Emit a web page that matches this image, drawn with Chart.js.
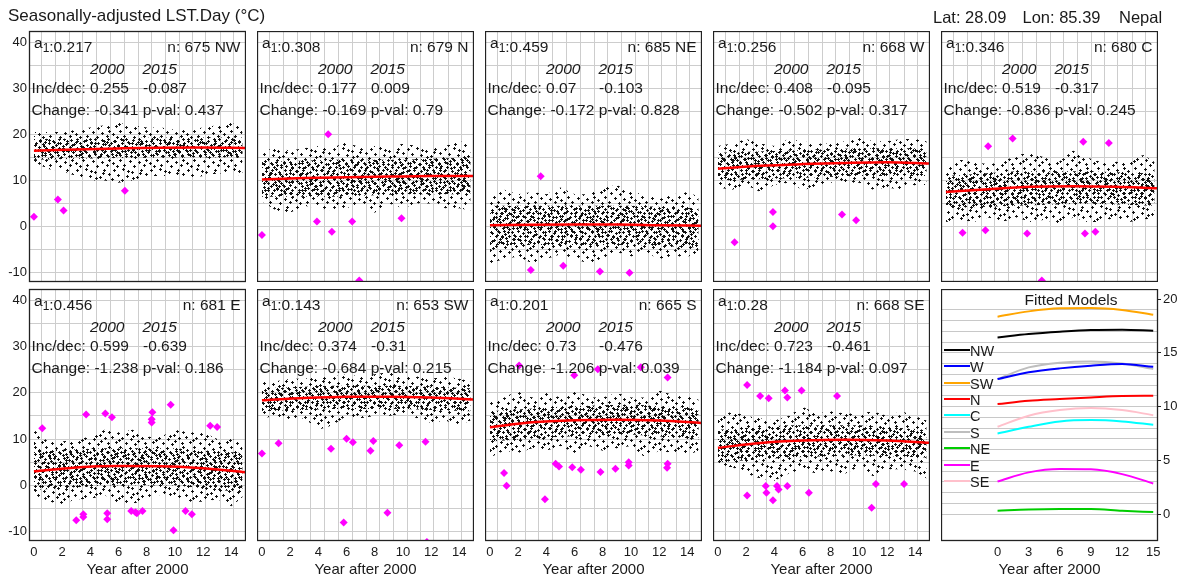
<!DOCTYPE html>
<html>
<head>
<meta charset="utf-8">
<script src="https://cdn.jsdelivr.net/npm/chart.js@4.4.1/dist/chart.umd.min.js"></script>
<style>
  body { margin: 0; background: #fff; font-family: "Liberation Sans", Arial, sans-serif; color: #1a1a1a; }
  #page { position: relative; width: 1187px; height: 583px; overflow: hidden; background: #fff; }
  canvas { position: absolute; }
  .txt { position: absolute; white-space: pre; font-size: 15.5px; line-height: 18px; }
  .title { font-size: 17px; line-height: 20px; }
  .head { font-size: 16.5px; line-height: 20px; }
  .leg { font-size: 14.5px; }
  .it { font-style: italic; }
</style>
</head>
<body>
<div id="page"></div>
<script>
// Site and panel summaries
const siteLat = 28.09, siteLon = 85.39, siteName = 'Nepal';
const regions = ['NW', 'N', 'NE', 'W', 'C', 'E', 'SW', 'S', 'SE'];
const a1 = [0.217, 0.308, 0.459, 0.256, 0.346, 0.456, 0.143, 0.201, 0.28];
const nObs = [675, 679, 685, 668, 680, 681, 653, 665, 668];
const inc2000 = [0.255, 0.177, 0.07, 0.408, 0.519, 0.599, 0.374, 0.73, 0.723];
const inc2015 = [-0.087, 0.009, -0.103, -0.095, -0.317, -0.639, -0.31, -0.476, -0.461];
const change = [-0.341, -0.169, -0.172, -0.502, -0.836, -1.238, -0.684, -1.206, -1.184];
const pVal = [0.437, 0.79, 0.828, 0.317, 0.245, 0.186, 0.215, 0.039, 0.097];

// x positions (years after 2000)
const fitYears = [0, 3, 6, 9, 12, 15];
const envYears = [0, 1, 2, 3, 4, 5, 6, 7, 8, 9, 10, 11, 12, 13, 14, 14.8];
const coreYears = [0, 5, 10, 14.8];
const xTickYears = [0, 2, 4, 6, 8, 10, 12, 14];
const xGridYears = [0.55, 1.5, 2.5, 3.45, 4.45, 5.45, 6.4, 7.4, 8.35, 9.35, 10.3, 11.25, 12.2, 13.2, 14.15];
const yTickVals = [-10, -5, 0, 5, 10, 15, 20, 25, 30, 35, 40];
const modelTickYears = [0, 3, 6, 9, 12, 15];

// NW
const fitNW = [16.43, 16.74, 16.96, 17.12, 17.15, 17.05];
const topNW = [20.5, 20.5, 20.5, 21, 21.5, 22, 22.5, 22, 21.5, 21.5, 21, 21, 21.5, 22, 22.5, 21.5];
const botNW = [14, 12.5, 12, 11, 10, 10, 9.5, 10, 11, 11, 11, 10.5, 11, 11.5, 11.5, 11];
const coreTopNW = [19, 19.2, 19.3, 19.3];
const coreBotNW = [14.5, 14.8, 15, 15];
const outNW = [[0, 2.15], [1.7, 5.9], [2.1, 3.5], [6.45, 7.8]];
// N
const fitN = [10.23, 10.54, 10.7, 10.85, 10.98, 11.0];
const topN = [16.5, 17, 16.5, 17, 17.5, 17, 18.5, 17, 17.5, 17, 18, 17.5, 17, 17.5, 18.5, 18];
const botN = [5.5, 3.5, 3, 4.5, 4, 3.5, 4, 5, 3, 5, 4, 5, 5, 4, 4, 3.5];
const coreTopN = [14, 14.5, 14.5, 15];
const coreBotN = [6.5, 6.5, 7, 7];
const outN = [[4.7, 20.0], [0, -1.8], [3.9, 1.1], [4.96, -1.1], [6.4, 1.1], [9.9, 1.8], [6.9, -11.7]];
// NE
const fitNE = [0.31, 0.43, 0.47, 0.47, 0.31, 0.19];
const topNE = [7, 8, 7, 7.5, 7, 8.5, 7, 7, 8.5, 9, 7.5, 7, 6, 7, 7.5, 6.5];
const botNE = [-8, -7, -6.5, -8, -7, -6, -7, -8, -7, -5.5, -6.5, -5.5, -7, -6.5, -6.5, -6];
const coreTopNE = [4.5, 4.5, 4.5, 4];
const coreBotNE = [-4, -4, -4, -4.5];
const outNE = [[3.6, 10.9], [2.9, -9.4], [5.2, -8.5], [7.8, -9.7], [9.9, -10.0]];
// W
const fitW = [12.56, 13.18, 13.55, 13.8, 13.95, 13.7];
const topW = [17.5, 18, 19, 18, 17.5, 19, 18.5, 18, 18, 18.5, 19.5, 18.5, 18.5, 19, 19, 18.5];
const botW = [8.5, 8, 9, 7.5, 9, 9.5, 8, 8.5, 9.5, 9.5, 9.5, 8, 8.5, 8, 9, 9];
const coreTopW = [16, 16.5, 17, 17];
const coreBotW = [10, 10.5, 11, 11];
const outW = [[3.9, 3.15], [3.9, 0.07], [1.18, -3.4], [8.8, 2.65], [9.8, 1.36]];
// C
const fitC = [7.5, 8.12, 8.62, 8.74, 8.62, 8.31];
const topC = [13, 14.5, 14, 13.5, 14, 15.5, 16, 15, 14, 16.5, 15, 14, 14, 14.5, 15.5, 14];
const botC = [1, 1.5, 1, 2, 1, 2, 1, 1.5, 0.5, 2, 1, 1, 2, 1, 1.5, 2];
const coreTopC = [11, 12, 12, 11.5];
const coreBotC = [4, 4.5, 5, 4.5];
const outC = [[2.99, 17.4], [4.73, 19.1], [9.74, 18.4], [11.55, 18.1], [1.18, -1.3], [2.8, -0.8], [5.76, -1.5], [9.86, -1.5], [10.6, -1.1], [6.8, -11.7]];
// E
const fitE = [3.04, 3.88, 4.19, 4.16, 3.72, 2.85];
const topE = [12, 9.5, 9.5, 10, 10.5, 12, 11.5, 12, 10.5, 10.5, 12, 11.5, 11.5, 10, 10, 9.5];
const botE = [-2, -3.5, -4, -3, -3, -2, -4, -4, -3, -2, -2.5, -3.5, -3.5, -3, -4.5, -2.5];
const coreTopE = [7.5, 8, 8, 7];
const coreBotE = [-1, 0, 0, -1.5];
const outE = [[0.59, 12.35], [3.7, 15.3], [5.06, 15.55], [5.53, 14.7], [8.4, 15.8], [8.35, 14.3], [8.35, 13.6], [9.7, 17.4], [12.5, 12.9], [12.99, 12.6],
  [3.0, -7.5], [3.5, -6.25], [3.5, -6.8], [5.2, -6.0], [5.2, -7.3], [6.9, -5.5], [7.2, -5.8], [7.3, -6.0], [7.7, -5.5], [9.9, -9.7], [10.75, -5.5], [11.2, -6.25]];
// SW
const fitSW = [18.36, 18.85, 19.13, 19.16, 18.98, 18.54];
const topSW = [22.5, 22.5, 23, 23, 23.5, 23.5, 24, 23.5, 24, 24.5, 23.5, 23.5, 23, 23.5, 23, 22.5];
const botSW = [14.5, 15, 14, 14.5, 12, 13, 15, 14.5, 15, 15, 15.5, 14.5, 13.5, 14, 13, 14];
const coreTopSW = [21, 21.5, 21.5, 21];
const coreBotSW = [16, 16.5, 16.5, 16];
const outSW = [[0, 6.9], [1.18, 9.1], [4.9, 7.9], [6.0, 10.1], [6.45, 9.3], [7.7, 7.5], [7.9, 9.6], [9.74, 8.65], [11.6, 9.4], [5.8, -8.0], [8.9, -5.9], [11.7, -12.2]];
// S
const fitS = [12.56, 13.64, 14.08, 14.2, 14.0, 13.49];
const topS = [18.5, 19, 20.5, 19, 20, 19, 21, 19, 19, 20, 19, 19, 20.5, 19.5, 19.5, 18.5];
const botS = [6, 7.5, 7, 8, 7.5, 8.5, 7, 8.5, 7.5, 8, 8.5, 6, 7.5, 7, 6.5, 7.5];
const coreTopS = [16, 17, 17.5, 16.5];
const coreBotS = [9.5, 10.5, 11, 10];
const outS = [[2.07, 25.9], [5.98, 23.8], [7.65, 25.1], [10.7, 25.5], [12.6, 23.3], [1.0, 2.7], [1.18, -0.07], [3.9, -3.0], [4.66, 4.65], [4.9, 4.1],
  [5.84, 3.9], [6.45, 3.4], [7.84, 2.9], [8.9, 3.6], [9.84, 5.0], [9.84, 4.3], [12.56, 3.8], [12.6, 4.65]];
// SE
const fitSE = [8.12, 9.15, 9.67, 9.86, 9.67, 9.2];
const topSE = [14.5, 16, 15, 14.5, 14, 15, 17, 15.5, 16, 15.5, 15.5, 16, 15, 16, 15, 14];
const botSE = [4, 4, 2.5, 1.5, 1, 2.5, 3.5, 2.5, 3, 2.5, 4, 2, 3.5, 3.5, 3, 1.5];
const coreTopSE = [12, 13, 13, 12];
const coreBotSE = [5, 6, 6.5, 6];
const outSE = [[2.07, 21.7], [2.99, 19.3], [3.6, 18.8], [4.75, 20.5], [4.92, 19.0], [5.93, 20.5], [8.45, 19.3], [2.07, -2.2], [3.39, -0.15], [3.44, -1.6],
  [3.9, -3.2], [4.19, -0.15], [4.3, -0.9], [4.92, -0.15], [6.45, -1.6], [10.9, -4.8], [11.2, 0.3], [13.2, 0.3]];

// Fitted-model legend order and colours
const legendOrder = ['NW', 'W', 'SW', 'N', 'C', 'S', 'NE', 'E', 'SE'];
const regionColor = { NW: '#000000', W: '#0000ff', SW: '#ffa500', N: '#ff0000', C: '#00ffff', S: '#bebebe', NE: '#00cd00', E: '#ff00ff', SE: '#ffc0cb' };

// Table built from the arrays above
const panels = [
  { fit: fitNW, top: topNW, bot: botNW, coreTop: coreTopNW, coreBot: coreBotNW, out: outNW },
  { fit: fitN, top: topN, bot: botN, coreTop: coreTopN, coreBot: coreBotN, out: outN },
  { fit: fitNE, top: topNE, bot: botNE, coreTop: coreTopNE, coreBot: coreBotNE, out: outNE },
  { fit: fitW, top: topW, bot: botW, coreTop: coreTopW, coreBot: coreBotW, out: outW },
  { fit: fitC, top: topC, bot: botC, coreTop: coreTopC, coreBot: coreBotC, out: outC },
  { fit: fitE, top: topE, bot: botE, coreTop: coreTopE, coreBot: coreBotE, out: outE },
  { fit: fitSW, top: topSW, bot: botSW, coreTop: coreTopSW, coreBot: coreBotSW, out: outSW },
  { fit: fitS, top: topS, bot: botS, coreTop: coreTopS, coreBot: coreBotS, out: outS },
  { fit: fitSE, top: topSE, bot: botSE, coreTop: coreTopSE, coreBot: coreBotSE, out: outSE }
];

// Layout
const panelLeft = [29, 257, 485, 713, 941];
const panelTop = [31, 289];
const panelH = [251, 252];
const panelW = 217;
const page = document.getElementById('page');

Chart.defaults.font.family = '"Liberation Sans", Arial, sans-serif';
Chart.defaults.color = '#1a1a1a';

// small "+" marks used as texture for the point cloud
function plusPattern(w, h, spots) {
  const c = document.createElement('canvas');
  c.width = w; c.height = h;
  const g = c.getContext('2d');
  g.fillStyle = '#111';
  spots.forEach(([x, y]) => {
    g.fillRect(x - 1, y, 3, 1);
    g.fillRect(x, y - 1, 1, 3);
  });
  return g.createPattern(c, 'repeat');
}
const sparsePat = plusPattern(37, 29, [
  [3, 2], [12, 1], [17, 3], [21, 4], [30, 2], [29, 5], [35, 6], [7, 7], [16, 8], [26, 9], [22, 10], [1, 11], [11, 12], [20, 13],
  [31, 12], [8, 14], [27, 15], [5, 16], [15, 17], [24, 18], [34, 17], [9, 21], [19, 22], [35, 21], [28, 23], [2, 24], [13, 26],
  [23, 27], [33, 26], [6, 27]]);
const densePat = plusPattern(31, 23, [
  [2, 1], [9, 2], [15, 1], [22, 3], [28, 1], [14, 4], [5, 5], [12, 6], [18, 5], [25, 7], [29, 5], [1, 8], [8, 9], [15, 10],
  [21, 9], [28, 10], [4, 12], [9, 12], [22, 12], [11, 14], [18, 13], [24, 14], [1, 13], [2, 16], [19, 16], [7, 18], [14, 17],
  [20, 19], [27, 17], [4, 21], [11, 21], [17, 21], [24, 21], [29, 20]]);

// frame round the plot area
const frame = {
  id: 'frame',
  afterDraw(chart) {
    const { ctx, chartArea: a } = chart;
    ctx.save();
    ctx.strokeStyle = '#222';
    ctx.lineWidth = 1.3;
    ctx.strokeRect(a.left + 0.5, a.top + 0.5, a.right - a.left - 1, a.bottom - a.top - 1);
    ctx.restore();
  }
};

// keep the plot area exactly where the panel box is
function fixSize(s, w, h) {
  s.paddingTop = 0; s.paddingBottom = 0; s.paddingLeft = 0; s.paddingRight = 0;
  if (w !== null) s.width = w;
  if (h !== null) s.height = h;
}

function addCanvas(x, y, w, h) {
  const cv = document.createElement('canvas');
  cv.width = w; cv.height = h;
  cv.style.left = x + 'px'; cv.style.top = y + 'px';
  cv.style.width = w + 'px'; cv.style.height = h + 'px';
  page.appendChild(cv);
  return cv;
}

function addText(html, x, y, cls, align) {
  const d = document.createElement('div');
  d.className = 'txt ' + (cls || '');
  d.innerHTML = html;
  page.appendChild(d);
  const lh = parseFloat(getComputedStyle(d).lineHeight);
  d.style.top = (y - lh / 2) + 'px';
  if (align === 'right') d.style.right = (1187 - x) + 'px';
  else if (align === 'center') { d.style.left = x + 'px'; d.style.transform = 'translateX(-50%)'; }
  else d.style.left = x + 'px';
  return d;
}

const pts = (xs, ys) => xs.map((x, i) => ({ x, y: ys[i] }));
const clear = 'rgba(0,0,0,0)';

function scatterPanel(p, k) {
  const col = k % 5, row = Math.floor(k / 5);
  const yAxisW = col === 0 ? 29 : 0;
  const padTop = col === 0 ? 8 : 0;
  const xAxisH = row === 1 ? 42 : (col === 0 ? 8 : 0);
  const cv = addCanvas(panelLeft[col] - yAxisW, panelTop[row] - padTop, panelW + yAxisW, panelH[row] + xAxisH + padTop);
  new Chart(cv, {
    type: 'line',
    data: {
      datasets: [
        { data: p.out.map(([x, y]) => ({ x, y })), showLine: false, pointStyle: 'rectRot', pointRadius: 4,
          pointBackgroundColor: '#ff00ff', pointBorderColor: '#ff00ff', pointBorderWidth: 0 },
        { data: pts(fitYears, p.fit), borderColor: '#ff0000', borderWidth: 2.5, pointRadius: 0, cubicInterpolationMode: 'monotone' },
        { data: pts(coreYears, p.coreTop), borderColor: clear, pointRadius: 0, fill: '+1', backgroundColor: densePat },
        { data: pts(coreYears, p.coreBot), borderColor: clear, pointRadius: 0 },
        { data: pts(envYears, p.top), borderColor: clear, pointRadius: 0, fill: '+1', backgroundColor: sparsePat },
        { data: pts(envYears, p.bot), borderColor: clear, pointRadius: 0 }
      ]
    },
    options: {
      responsive: false,
      animation: false,
      layout: { padding: { top: padTop, left: 0, right: 0, bottom: 0 }, autoPadding: false },
      plugins: { legend: { display: false }, tooltip: { enabled: false } },
      scales: {
        x: {
          type: 'linear', min: -0.35, max: 15.04, position: 'bottom',
          afterBuildTicks: s => { s.ticks = xTickYears.map(v => ({ value: v })); },
          grid: { display: false }, border: { display: false },
          ticks: { display: row === 1, autoSkip: false, maxRotation: 0, padding: -4, font: { size: 13 } },
          title: { display: row === 1, text: 'Year after 2000', font: { size: 15 }, padding: { top: 0, bottom: 4 } },
          afterFit: s => fixSize(s, null, xAxisH)
        },
        xg: {
          type: 'linear', min: -0.35, max: 15.04, position: 'bottom',
          afterBuildTicks: s => { s.ticks = xGridYears.map(v => ({ value: v })); },
          grid: { color: '#cdcdcd', lineWidth: 1, drawTicks: false }, border: { display: false },
          ticks: { display: false, autoSkip: false },
          afterFit: s => fixSize(s, null, 0)
        },
        y: {
          min: -12, max: 42.4,
          afterBuildTicks: s => { s.ticks = yTickVals.map(v => ({ value: v })); },
          grid: { color: '#cdcdcd', lineWidth: 1, drawTicks: false }, border: { display: false },
          ticks: { display: col === 0, autoSkip: false, padding: 2, font: { size: 13 },
                   callback: v => (v % 10 === 0 ? v : '') },
          afterFit: s => fixSize(s, yAxisW, null)
        }
      }
    },
    plugins: [frame]
  });

  const L = panelLeft[col], T = panelTop[row], R = L + panelW;
  addText('<span style="position:relative;top:-4px">a</span><span style="font-size:12px">1</span>:' + a1[k], L + 5, T + 16);
  addText('n: ' + nObs[k] + ' ' + regions[k], R - 5.5, T + 16, '', 'right');
  addText('2000', L + 61, T + 38, 'it');
  addText('2015', L + 113.5, T + 38, 'it');
  addText('Inc/dec: ' + inc2000[k], L + 2.5, T + 56.5);
  addText(String(inc2015[k]), L + 114, T + 56.5);
  addText('Change: ' + change[k] + ' p-val: ' + pVal[k], L + 2.5, T + 79);
}

function fittedPanel() {
  const L = panelLeft[4], T = panelTop[1];
  const cv = addCanvas(L, T, panelW + 30, panelH[1] + 42);
  const byName = {};
  regions.forEach((r, i) => { byName[r] = panels[i].fit; });
  new Chart(cv, {
    type: 'line',
    data: {
      datasets: legendOrder.map(r => ({
        data: pts(fitYears, byName[r]), borderColor: regionColor[r], borderWidth: 2,
        pointRadius: 0, cubicInterpolationMode: 'monotone'
      }))
    },
    options: {
      responsive: false,
      animation: false,
      layout: { padding: 0, autoPadding: false },
      plugins: { legend: { display: false }, tooltip: { enabled: false } },
      scales: {
        x: {
          type: 'linear', min: -5.45, max: 15.46, position: 'bottom',
          afterBuildTicks: s => { s.ticks = modelTickYears.map(v => ({ value: v })); },
          grid: { display: false }, border: { display: false },
          ticks: { autoSkip: false, maxRotation: 0, padding: -4, font: { size: 13 } },
          title: { display: true, text: 'Year after 2000', font: { size: 15 }, padding: { top: 0, bottom: 4 } },
          afterFit: s => fixSize(s, null, 42)
        },
        y: {
          position: 'right', min: -2.5, max: 20.93,
          afterBuildTicks: s => { s.ticks = Array.from({ length: 23 }, (_, i) => ({ value: i - 2 })); },
          grid: {
            lineWidth: 1, tickLength: 3,
            color: c => (c.tick && c.tick.value >= 0 && c.tick.value <= 19 ? '#c8c8c8' : clear),
            tickColor: c => (c.tick && c.tick.value >= 0 && c.tick.value % 5 === 0 ? '#222' : clear)
          },
          border: { display: false },
          ticks: { autoSkip: false, padding: 2, font: { size: 13 },
                   callback: v => (v >= 0 && v % 5 === 0 ? v : '') },
          afterFit: s => fixSize(s, 30, null)
        }
      }
    },
    plugins: [frame]
  });

  addText('Fitted Models', 1071, 300, '', 'center');
  legendOrder.forEach((r, i) => {
    const y = 350.7 + i * 16.4;
    const line = document.createElement('div');
    line.style.cssText = 'position:absolute;left:944px;width:26px;height:2px;top:' + (y - 2) + 'px;background:' + regionColor[r];
    page.appendChild(line);
    addText(r, 970, y, 'leg');
  });
}

panels.forEach((p, k) => scatterPanel(p, k));
fittedPanel();

addText('Seasonally-adjusted LST.Day (°C)', 8, 16, 'title');
addText('Lat: ' + siteLat, 933, 17, 'head');
addText('Lon: ' + siteLon, 1022.5, 17, 'head');
addText(siteName, 1119, 17, 'head');
</script>
</body>
</html>
